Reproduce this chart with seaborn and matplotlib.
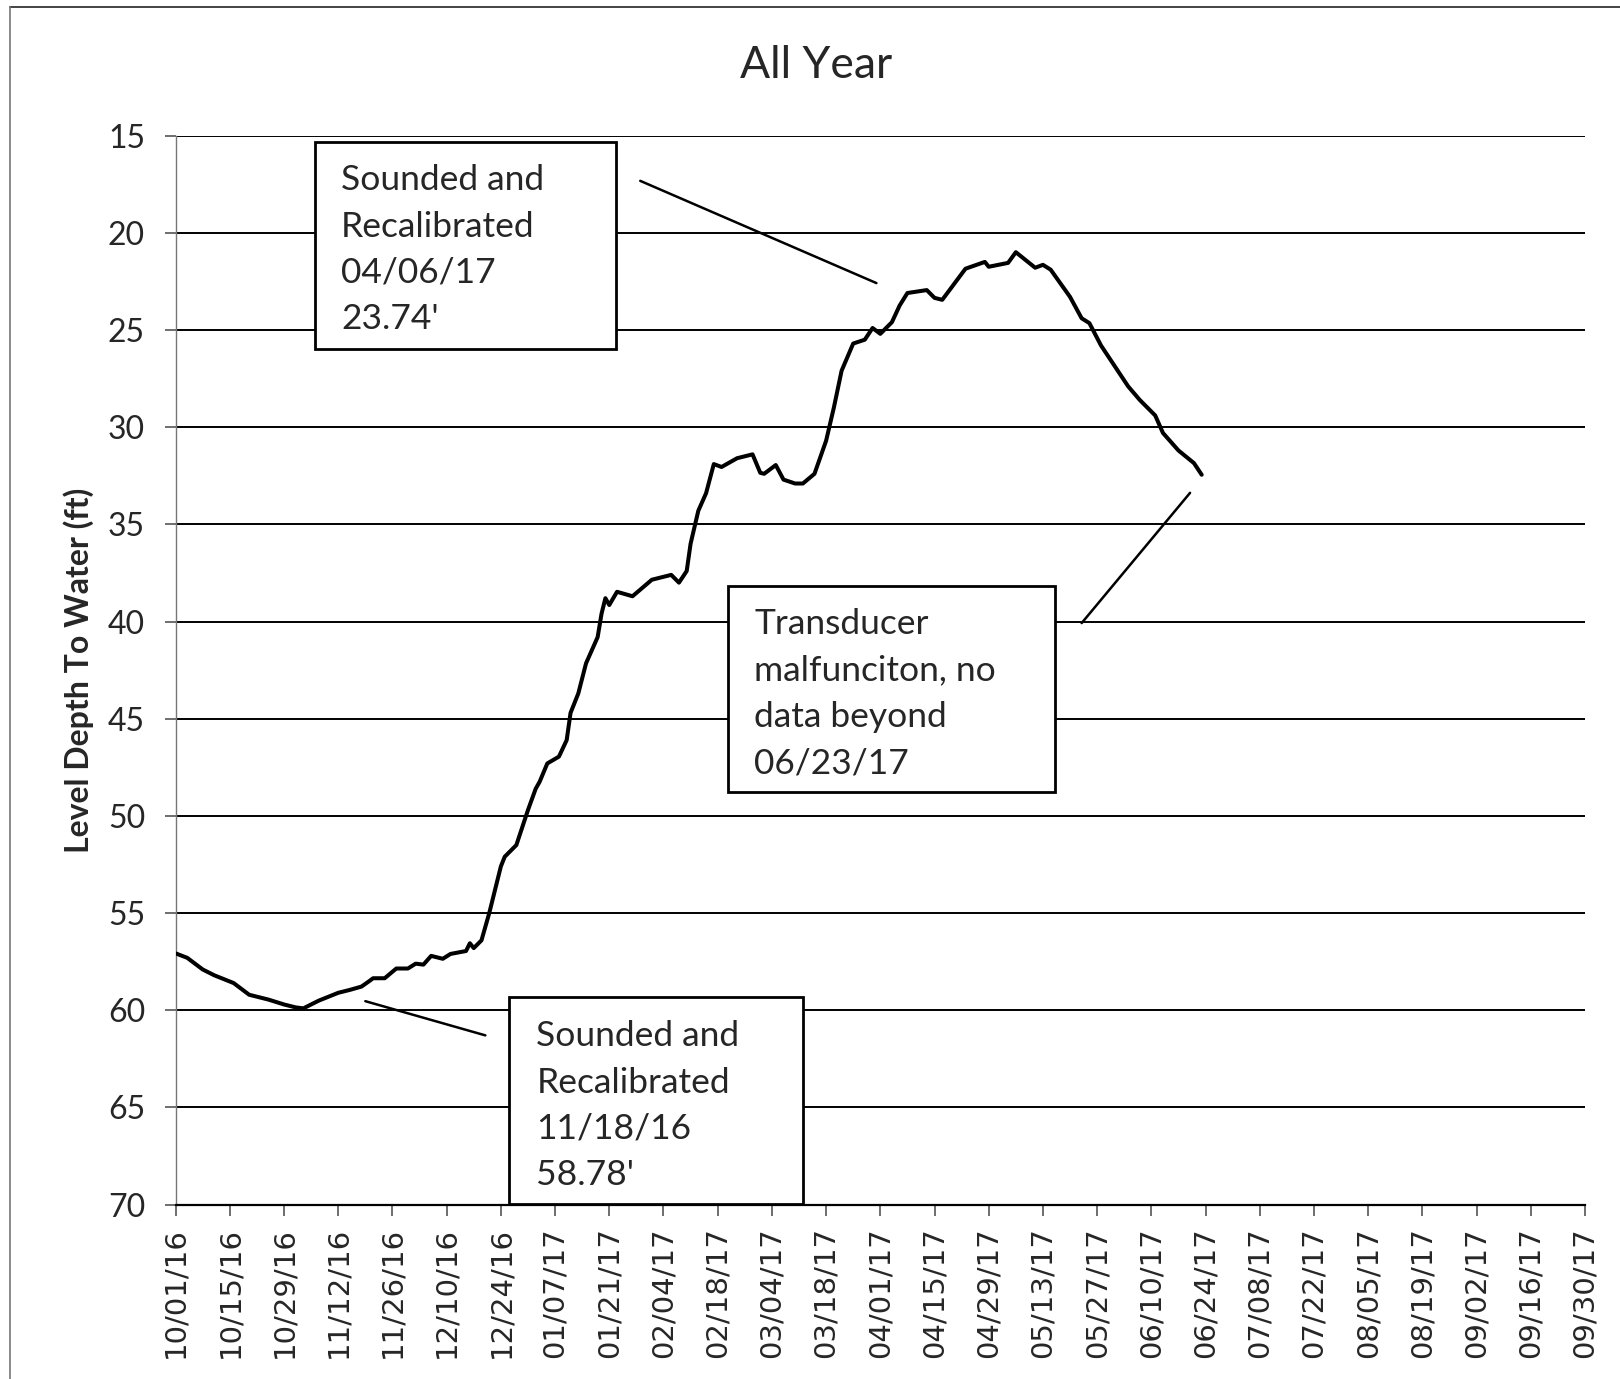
import matplotlib
matplotlib.use("Agg")
import matplotlib.pyplot as plt
from matplotlib.patches import Rectangle
from matplotlib.lines import Line2D
import pandas as pd
import seaborn as sns

# Logged water level, depth below ground (ft)
dates = [
    "10/01/16", "10/04/16", "10/08/16", "10/11/16", "10/16/16", "10/20/16",
    "10/25/16", "10/29/16", "11/01/16", "11/03/16", "11/05/16", "11/07/16",
    "11/12/16", "11/15/16", "11/18/16", "11/20/16", "11/21/16", "11/24/16",
    "11/27/16", "11/30/16", "12/02/16", "12/04/16", "12/06/16", "12/09/16",
    "12/11/16", "12/15/16", "12/16/16", "12/17/16", "12/19/16", "12/21/16",
    "12/24/16", "12/25/16", "12/28/16", "12/29/16", "12/31/16", "01/02/17",
    "01/03/17", "01/05/17", "01/08/17", "01/10/17", "01/11/17", "01/13/17",
    "01/15/17", "01/18/17", "01/19/17", "01/20/17", "01/21/17", "01/23/17",
    "01/27/17", "02/01/17", "02/04/17", "02/06/17", "02/08/17", "02/10/17",
    "02/11/17", "02/13/17", "02/15/17", "02/17/17", "02/19/17", "02/23/17",
    "02/26/17", "02/27/17", "03/01/17", "03/02/17", "03/05/17", "03/07/17",
    "03/10/17", "03/12/17", "03/15/17", "03/18/17", "03/20/17", "03/22/17",
    "03/25/17", "03/28/17", "03/30/17", "04/01/17", "04/04/17", "04/06/17",
    "04/08/17", "04/13/17", "04/15/17", "04/17/17", "04/23/17", "04/28/17",
    "04/29/17", "05/04/17", "05/06/17", "05/11/17", "05/13/17", "05/15/17",
    "05/20/17", "05/23/17", "05/25/17", "05/28/17", "05/31/17", "06/04/17",
    "06/07/17", "06/11/17", "06/13/17", "06/17/17", "06/21/17", "06/23/17",
]
depth_ft = [
    57.07, 57.30, 57.90, 58.20, 58.60, 59.20,
    59.45, 59.70, 59.85, 59.90, 59.70, 59.50,
    59.10, 58.95, 58.78, 58.50, 58.35, 58.35,
    57.85, 57.85, 57.60, 57.65, 57.20, 57.35,
    57.10, 56.95, 56.55, 56.80, 56.40, 55.00,
    52.60, 52.10, 51.50, 50.90, 49.70, 48.60,
    48.25, 47.30, 46.95, 46.10, 44.70, 43.70,
    42.15, 40.80, 39.60, 38.80, 39.15, 38.47,
    38.70, 37.85, 37.70, 37.60, 38.00, 37.40,
    36.00, 34.30, 33.40, 31.90, 32.05, 31.60,
    31.45, 31.40, 32.35, 32.40, 31.95, 32.70,
    32.90, 32.90, 32.40, 30.70, 29.00, 27.10,
    25.70, 25.50, 24.90, 25.20, 24.60, 23.74,
    23.10, 22.95, 23.35, 23.45, 21.85, 21.50,
    21.75, 21.55, 21.00, 21.80, 21.65, 21.90,
    23.30, 24.40, 24.65, 25.80, 26.70, 27.90,
    28.60, 29.40, 30.30, 31.20, 31.85, 32.45,
]

y_ticks = [15, 20, 25, 30, 35, 40, 45, 50, 55, 60, 65, 70]
x_start, x_end = "10/01/16", "09/30/17"

title_text = "All Year"
y_label = "Level Depth To Water (ft)"
note_top = "Sounded and\nRecalibrated\n04/06/17\n23.74'"
note_mid = "Transducer\nmalfunciton, no\ndata beyond\n06/23/17"
note_low = "Sounded and\nRecalibrated\n11/18/16\n58.78'"

df = pd.DataFrame({
    "date": pd.to_datetime(dates, format="%m/%d/%y"),
    "depth": depth_ft,
})
t0 = pd.to_datetime(x_start, format="%m/%d/%y")
t1 = pd.to_datetime(x_end, format="%m/%d/%y")

sns.set_style("white")
plt.rcParams["font.family"] = ["Lato", "DejaVu Sans"]

fig = plt.figure(figsize=(16.2, 13.79), dpi=100)
ax = fig.add_axes([0.1084, 0.1264, 0.8700, 0.7753])

sns.lineplot(data=df, x="date", y="depth", color="black", lw=2.9, ax=ax,
             zorder=5)

ax.set_xlim(t0, t1)
ax.set_ylim(70, 15)
ax.set_yticks(y_ticks)
ax.set_yticklabels([str(v) for v in y_ticks], fontsize=23)

xt = pd.date_range(t0, t1, freq="14D")
ax.set_xticks(xt)
ax.set_xticklabels([d.strftime("%m/%d/%y") for d in xt], rotation=90,
                   fontsize=21, family="DejaVu Sans")

ax.set_xlabel("")
ax.set_ylabel(y_label, fontsize=23, fontweight="bold", va="center")
ax.yaxis.set_label_coords(-0.0685, 0.5)

ax.yaxis.grid(True, color="black", lw=1.4)
ax.xaxis.grid(False)
ax.set_axisbelow(True)

for s in ("top", "right"):
    ax.spines[s].set_visible(False)
ax.spines["left"].set_color("#777777")
ax.spines["left"].set_linewidth(1.0)
ax.spines["bottom"].set_color("black")
ax.spines["bottom"].set_linewidth(1.6)

ax.tick_params(axis="x", direction="out", length=8, width=1.2,
               color="#555555", pad=8, bottom=True)
ax.tick_params(axis="y", direction="out", length=8, width=1.2,
               color="#555555", pad=14, left=True)

fig.text(0.504, 0.9525, title_text, ha="center", va="center", fontsize=32)


def note_box(x0, y0, x1, y1, tx, ty, text):
    ax.add_patch(Rectangle((x0, y0), x1 - x0, y1 - y0, transform=ax.transAxes,
                           facecolor="white", edgecolor="black", lw=2.0,
                           zorder=6, clip_on=False))
    ax.text(tx, ty, text, transform=ax.transAxes, ha="left", va="center",
            fontsize=25.5, linespacing=1.55, zorder=7)


def leader(x_from, y_from, x_to, y_to):
    ax.annotate("", xy=(pd.to_datetime(x_to, format="%m/%d/%y"), y_to),
                xytext=(pd.to_datetime(x_from, format="%m/%d/%y"), y_from),
                arrowprops=dict(arrowstyle="-", color="black", lw=1.8,
                                shrinkA=0, shrinkB=0),
                zorder=6)


note_box(0.0989, 0.8003, 0.3125, 0.9944, 0.1174, 0.8931, note_top)
note_box(0.3922, 0.3856, 0.6239, 0.5788, 0.4105, 0.4778, note_mid)
note_box(0.2368, 0.0010, 0.4450, 0.1943, 0.2559, 0.0925, note_low)

leader("01/29/17", 17.33, "03/31/17", 22.59)
leader("05/23/17", 40.08, "06/20/17", 33.38)
leader("11/19/16", 59.53, "12/20/16", 61.29)

# outer frame of the chart area (top and left edges)
fig.add_artist(Line2D([10 / 1620, 1.0], [1 - 7 / 1379, 1 - 7 / 1379],
                      transform=fig.transFigure, color="#444444", lw=1.4))
fig.add_artist(Line2D([10 / 1620, 10 / 1620], [0.0, 1 - 7 / 1379],
                      transform=fig.transFigure, color="#777777", lw=1.2))

fig.savefig("out.png", dpi=100)
